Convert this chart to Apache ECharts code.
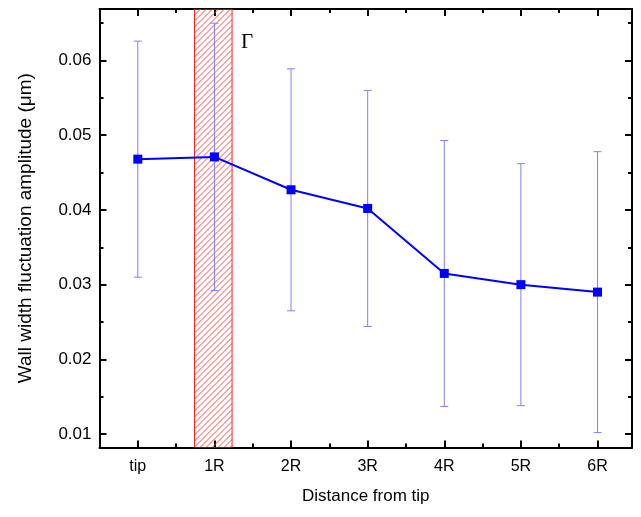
<!DOCTYPE html>
<html><head><meta charset="utf-8">
<script src="https://cdn.jsdelivr.net/npm/echarts@6/dist/echarts.min.js"></script>
<style>html,body{margin:0;padding:0;background:#fff}#c{width:641px;height:517px}</style>
</head><body><div id="c"></div>
<script>
// ---- data ----
const categories = ['tip','1R','2R','3R','4R','5R','6R'];
const meanValues = [0.0468, 0.0471, 0.0427, 0.0402, 0.0315, 0.0300, 0.0290];
const errorValues = [0.0158, 0.0179, 0.0162, 0.0158, 0.0178, 0.0162, 0.0188];
const yTickValues = [0.01, 0.02, 0.03, 0.04, 0.05, 0.06];
const yMinorValues = [0.015, 0.025, 0.035, 0.045, 0.055, 0.065];
const xTickValues = [0, 1, 2, 3, 4, 5, 6];
const xMinorValues = [0.5, 1.5, 2.5, 3.5, 4.5, 5.5];
const gammaRange = [0.74, 1.23];
const gammaLabel = 'Γ';

const chart = echarts.init(document.getElementById('c'));
const font = 'Arial, "Liberation Sans", sans-serif';
const XMIN = -0.5, XMAX = 6.45, YMIN = 0.0082, YMAX = 0.0669;

function xAx(pos, ticks, len, withLabel, showLine) {
  return {
    type: 'value', position: pos, min: XMIN, max: XMAX,
    splitLine: {show: false},
    axisLine: {show: showLine, onZero: false, lineStyle: {color: '#000', width: 2}},
    axisTick: {show: true, inside: true, length: len, customValues: ticks, lineStyle: {color: '#000', width: 2}},
    axisLabel: withLabel ? {show: true, customValues: ticks, margin: 11, color: '#000', fontSize: 16, fontFamily: font,
      formatter: v => categories[Math.round(v)]} : {show: false},
    name: withLabel ? 'Distance from tip' : '',
    nameLocation: 'middle', nameGap: 40,
    nameTextStyle: {color: '#000', fontSize: 17, fontFamily: font}
  };
}
function yAx(pos, ticks, len, withLabel, showLine) {
  return {
    type: 'value', position: pos, min: YMIN, max: YMAX,
    splitLine: {show: false},
    axisLine: {show: showLine, onZero: false, lineStyle: {color: '#000', width: 2}},
    axisTick: {show: true, inside: true, length: len, customValues: ticks, lineStyle: {color: '#000', width: 2}},
    axisLabel: withLabel ? {show: true, customValues: ticks, margin: 8, color: '#000', fontSize: 17, fontFamily: font,
      formatter: v => v.toFixed(2)} : {show: false},
    name: withLabel ? 'Wall width fluctuation amplitude (μm)' : '',
    nameLocation: 'middle', nameGap: 64,
    nameTextStyle: {color: '#000', fontSize: 19, fontFamily: font}
  };
}

const points = meanValues.map((v, i) => [i, v]);
const errData = meanValues.map((v, i) => [i, v - errorValues[i], v + errorValues[i]]);

chart.setOption({
  animation: false,
  backgroundColor: '#fff',
  grid: {left: 99.5, right: 9, top: 9, bottom: 69.5},
  xAxis: [
    xAx('bottom', xTickValues, 7, true, true),
    xAx('bottom', xMinorValues, 4, false, false),
    xAx('top', xTickValues, 7, false, true),
    xAx('top', xMinorValues, 4, false, false)
  ],
  yAxis: [
    yAx('left', yTickValues, 7, true, true),
    yAx('left', yMinorValues, 4, false, false),
    yAx('right', yTickValues, 7, false, true),
    yAx('right', yMinorValues, 4, false, false)
  ],
  series: [
    {
      type: 'custom', z: 1, silent: true, clip: true,
      data: [[gammaRange[0], gammaRange[1]]],
      renderItem: function (params, api) {
        const a = api.coord([api.value(0), YMAX]);
        const b = api.coord([api.value(1), YMIN]);
        const x0 = a[0], y0 = a[1], x1 = b[0], y1 = b[1];
        const W = x1 - x0, H = y1 - y0;
        const kids = [];
        const st = {stroke: '#ff3030', lineWidth: 1, opacity: 0.85};
        for (let k = -H; k < W; k += 6) {
          const tmin = Math.max(0, -k), tmax = Math.min(H, W - k);
          if (tmin < tmax) {
            kids.push({type: 'line', shape: {x1: x0 + k + tmin, y1: y1 - tmin, x2: x0 + k + tmax, y2: y1 - tmax}, style: st});
          }
        }
        kids.push({type: 'rect', shape: {x: x0, y: y0, width: W, height: H}, style: {fill: null, stroke: '#ff2020', lineWidth: 1}});
        return {type: 'group', children: kids};
      }
    },
    {
      type: 'custom', z: 3, silent: true,
      data: errData,
      renderItem: function (params, api) {
        const x = api.value(0);
        const lo = api.coord([x, api.value(1)]);
        const hi = api.coord([x, api.value(2)]);
        const hw = 4;
        const st = {stroke: '#7f7fff', lineWidth: 1};
        return {type: 'group', children: [
          {type: 'line', shape: {x1: lo[0], y1: lo[1], x2: hi[0], y2: hi[1]}, style: st},
          {type: 'line', shape: {x1: lo[0]-hw, y1: lo[1], x2: lo[0]+hw, y2: lo[1]}, style: st},
          {type: 'line', shape: {x1: hi[0]-hw, y1: hi[1], x2: hi[0]+hw, y2: hi[1]}, style: st}
        ]};
      }
    },
    {
      type: 'line', z: 4, data: points,
      symbol: 'rect', symbolSize: 9,
      lineStyle: {color: '#0000ff', width: 2},
      itemStyle: {color: '#0000ff'}
    }
  ],
  graphic: [{
    type: 'text', left: 241, top: 32,
    style: {text: gammaLabel, fontSize: 21, fontFamily: '"Liberation Serif", "Times New Roman", serif', fill: '#000'}
  }]
});
</script></body></html>
